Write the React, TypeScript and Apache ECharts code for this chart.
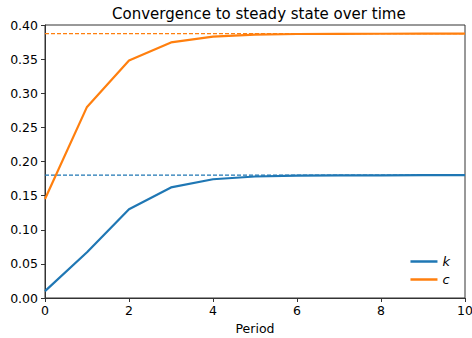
import React, { useEffect, useRef } from "react";
import * as echarts from "echarts";

const periods = [0, 1, 2, 3, 4, 5, 6, 7, 8, 9, 10];
const kValues = [0.01, 0.067, 0.13, 0.162, 0.174, 0.178, 0.1793, 0.1797, 0.1798, 0.1799, 0.1799];
const cValues = [0.145, 0.28, 0.348, 0.3745, 0.383, 0.386, 0.3868, 0.3871, 0.3872, 0.3873, 0.3873];
const kSteady = 0.18;
const cSteady = 0.3875;
const xTicks = [0, 2, 4, 6, 8, 10];

const BLUE = "#1f77b4";
const ORANGE = "#ff7f0e";
const FONT = "DejaVu Sans";

export default function App() {
  const ref = useRef<HTMLDivElement>(null);
  useEffect(() => {
    if (!ref.current) return;
    const chart = echarts.init(ref.current, undefined, { renderer: "svg" });
    const pairs = (vals: number[]) => periods.map((p, i) => [p, vals[i]]);
    chart.setOption({
      animation: false,
      backgroundColor: "#ffffff",
      title: {
        text: "Convergence to steady state over time",
        left: 107,
        top: 1,
        textStyle: { fontFamily: FONT, fontSize: 15, fontWeight: "normal", color: "#000" },
      },
      grid: {
        left: 45,
        right: 7,
        top: 25,
        bottom: 40,
        outerBoundsMode: "none",
        containLabel: false,
        show: true,
        borderColor: "#333",
        borderWidth: 1,
        backgroundColor: "transparent",
      },
      legend: {
        data: ["k", "c"],
        orient: "vertical",
        right: 17,
        top: 250,
        icon: "rect",
        itemWidth: 27,
        itemHeight: 2.5,
        itemGap: 5,
        textStyle: { fontFamily: FONT, fontSize: 13, fontStyle: "italic", color: "#000" },
      },
      xAxis: {
        type: "value",
        min: 0,
        max: 10,
        interval: 2,
        name: "Period",
        nameLocation: "middle",
        nameGap: 23,
        nameTextStyle: { fontFamily: FONT, fontSize: 12.5, color: "#000" },
        axisLine: { show: true, lineStyle: { color: "#333", width: 1 } },
        axisTick: { show: true, length: 4, lineStyle: { color: "#333" } },
        axisLabel: {
          fontFamily: FONT,
          fontSize: 12.5,
          color: "#000",
          margin: 6,
          formatter: (v: number) => (xTicks.includes(v) ? String(v) : ""),
        },
        splitLine: { show: false },
      },
      yAxis: {
        type: "value",
        min: 0,
        max: 0.4,
        interval: 0.05,
        axisLine: { show: true, lineStyle: { color: "#333", width: 1 } },
        axisTick: { show: true, length: 4, lineStyle: { color: "#333" } },
        axisLabel: {
          fontFamily: FONT,
          fontSize: 12.5,
          color: "#000",
          margin: 7,
          formatter: (v: number) => v.toFixed(2),
        },
        splitLine: { show: false },
      },
      series: [
        {
          name: "k_ss",
          type: "line",
          data: [[0, kSteady], [10, kSteady]],
          symbol: "none",
          color: BLUE,
          lineStyle: { color: BLUE, width: 1.2, type: [4, 2] },
          silent: true,
          z: 1,
        },
        {
          name: "c_ss",
          type: "line",
          data: [[0, cSteady], [10, cSteady]],
          symbol: "none",
          color: ORANGE,
          lineStyle: { color: ORANGE, width: 1.2, type: [4, 2] },
          silent: true,
          z: 1,
        },
        {
          name: "k",
          type: "line",
          data: pairs(kValues),
          symbol: "none",
          color: BLUE,
          lineStyle: { color: BLUE, width: 2.2 },
          z: 3,
        },
        {
          name: "c",
          type: "line",
          data: pairs(cValues),
          symbol: "none",
          color: ORANGE,
          lineStyle: { color: ORANGE, width: 2.2 },
          z: 3,
        },
      ],
    });
    return () => chart.dispose();
  }, []);
  return <div ref={ref} style={{ width: 472, height: 338, position: "absolute", left: 0, top: 0 }} />;
}
